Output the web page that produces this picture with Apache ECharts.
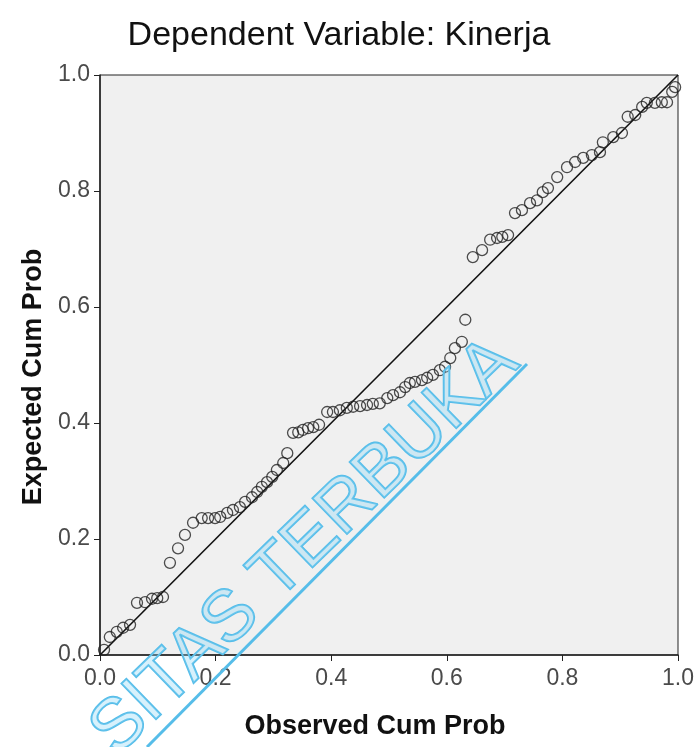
<!DOCTYPE html>
<html>
<head>
<meta charset="utf-8">
<script src="https://cdn.jsdelivr.net/npm/echarts@6/dist/echarts.min.js"></script>
<style>html,body{margin:0;padding:0;background:#fff;}#c{width:698px;height:747px;}</style>
</head>
<body>
<div id="c"></div>
<script>
const titleText = 'Dependent Variable: Kinerja';
const xAxisName = 'Observed Cum Prob';
const yAxisName = 'Expected Cum Prob';
const tickValues = [0.0, 0.2, 0.4, 0.6, 0.8, 1.0];
const watermarkText = 'SITAS TERBUKA';

const observed = [0.007,0.017,0.029,0.040,0.052,0.064,0.078,0.090,0.099,0.109,
  0.121,0.135,0.147,0.161,0.176,0.187,0.199,0.208,0.220,0.230,
  0.242,0.251,0.263,0.272,0.280,0.289,0.298,0.306,0.317,0.324,
  0.334,0.343,0.351,0.360,0.369,0.379,0.393,0.403,0.415,0.427,
  0.438,0.450,0.462,0.472,0.484,0.497,0.507,0.519,0.528,0.536,
  0.545,0.557,0.566,0.576,0.588,0.597,0.606,0.614,0.626,0.632,
  0.645,0.661,0.675,0.687,0.696,0.706,0.718,0.730,0.744,0.756,
  0.766,0.775,0.791,0.808,0.822,0.836,0.851,0.865,0.870,0.888,
  0.903,0.913,0.926,0.938,0.946,0.960,0.972,0.981,0.990,0.995];
const expected = [0.009,0.031,0.040,0.047,0.052,0.090,0.091,0.097,0.098,0.100,
  0.159,0.184,0.207,0.228,0.236,0.236,0.236,0.238,0.245,0.250,
  0.255,0.264,0.272,0.281,0.290,0.298,0.307,0.319,0.331,0.348,
  0.383,0.384,0.388,0.391,0.393,0.397,0.419,0.419,0.422,0.426,
  0.428,0.429,0.431,0.433,0.434,0.443,0.448,0.453,0.462,0.469,
  0.471,0.474,0.478,0.483,0.491,0.497,0.512,0.529,0.540,0.578,
  0.686,0.698,0.716,0.719,0.721,0.724,0.762,0.767,0.779,0.784,
  0.798,0.805,0.824,0.841,0.850,0.857,0.862,0.867,0.884,0.893,
  0.900,0.928,0.931,0.945,0.952,0.952,0.953,0.953,0.971,0.979];
const refLine = [[0, 0], [1, 1]];

const points = observed.map((v, i) => [v, expected[i]]);
const chart = echarts.init(document.getElementById('c'), null, {renderer: 'canvas'});
const fam = '"Liberation Sans", Arial, sans-serif';
chart.setOption({
  backgroundColor: '#ffffff',
  animation: false,
  title: {
    text: titleText, left: 334, top: 14, textAlign: 'center',
    textStyle: {fontFamily: fam, fontSize: 34, fontWeight: 'normal', color: '#111'}
  },
  grid: {
    left: 100, right: 20, top: 75, bottom: 92, show: true,
    backgroundColor: '#f0f0f0', borderColor: '#222', borderWidth: 1
  },
  xAxis: {
    type: 'value', min: 0, max: 1, interval: 0.2,
    name: xAxisName, nameLocation: 'middle', nameGap: 58,
    nameTextStyle: {fontFamily: fam, fontSize: 27, fontWeight: 'bold', color: '#111',
      padding: [0, 28, 0, 0]},
    axisLine: {show: true, onZero: false, lineStyle: {color: '#222', width: 1.5}},
    axisTick: {show: true, length: 6, lineStyle: {color: '#222'}},
    axisLabel: {fontFamily: fam, fontSize: 23, color: '#4a4a4a', margin: 12,
      formatter: v => tickValues.some(t => Math.abs(t - v) < 1e-9) ? v.toFixed(1) : ''},
    splitLine: {show: false}
  },
  yAxis: {
    type: 'value', min: 0, max: 1, interval: 0.2,
    name: yAxisName, nameLocation: 'middle', nameGap: 53,
    nameTextStyle: {fontFamily: fam, fontSize: 27, fontWeight: 'bold', color: '#111',
      padding: [0, 24, 0, 0]},
    axisLine: {show: true, onZero: false, lineStyle: {color: '#222', width: 1.5}},
    axisTick: {show: true, length: 6, lineStyle: {color: '#222'}},
    axisLabel: {fontFamily: fam, fontSize: 23, color: '#4a4a4a', margin: 10,
      formatter: v => v.toFixed(1)},
    splitLine: {show: false}
  },
  series: [
    {
      type: 'line', data: refLine, symbol: 'none', silent: true,
      lineStyle: {color: '#111', width: 1.6}, z: 2
    },
    {
      type: 'scatter', data: points, symbol: 'circle', symbolSize: 11,
      itemStyle: {color: 'rgba(0,0,0,0)', borderColor: '#222', borderWidth: 1.3}, z: 3
    }
  ],
  graphic: [
    {
      type: 'text', x: 305, y: 547, rotation: 0.77, z: 10, silent: true,
      style: {
        text: watermarkText, x: 0, y: 0, align: 'center', verticalAlign: 'middle',
        font: '72px ' + fam,
        fill: 'rgba(140,215,245,0.35)', stroke: '#56bde9', lineWidth: 2
      }
    },
    {
      type: 'line', z: 10, silent: true,
      shape: {x1: 147, y1: 747, x2: 527, y2: 364},
      style: {stroke: '#56bde9', lineWidth: 3}
    }
  ]
});
</script>
</body>
</html>
